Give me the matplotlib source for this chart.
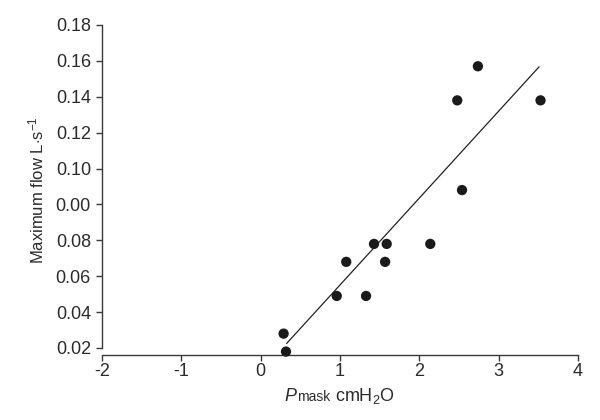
import numpy as np
import matplotlib
matplotlib.use('Agg')
from matplotlib import pyplot as pp
from matplotlib import rc
from matplotlib.offsetbox import TextArea, HPacker, AnchoredOffsetbox

rc('font', **{'family': 'sans-serif', 'sans-serif': ['Liberation Sans']})
rc('mathtext', **{'fontset': 'custom', 'rm': 'Liberation Sans', 'it': 'Liberation Sans:italic'})

# scatter data (y in tick-position units, see labels below)
pmask = [0.29, 0.32, 0.96, 1.08, 1.33, 1.43, 1.57, 1.59, 2.14, 2.48, 2.54, 2.74, 3.53]
max_flow = [0.028, 0.018, 0.049, 0.068, 0.049, 0.078, 0.068, 0.078, 0.078, 0.158, 0.108, 0.177, 0.158]

# fitted line end points
fit_x = [0.33, 3.51]
fit_y = [0.0226, 0.1766]

xticks = [-2, -1, 0, 1, 2, 3, 4]
ytick_pos = [0.02, 0.04, 0.06, 0.08, 0.10, 0.12, 0.14, 0.16, 0.18, 0.20]
ytick_labels = ['0.02', '0.04', '0.06', '0.08', '0.00', '0.10', '0.12', '0.14', '0.16', '0.18']

textColor = '#2b2b2b'
lineColor = '#3a3a3a'

fig = pp.figure(figsize=(6, 4.2), dpi=100)
ax = fig.add_axes([0.17, 0.1548, 0.793, 1 - 25/420 - 0.1548])

ax.plot(fit_x, fit_y, color='#222222', linewidth=0.9, zorder=2)
ax.scatter(pmask, max_flow, s=55, color='#1a1a1a', edgecolor='none', zorder=3, clip_on=False)

ax.set_xlim(-2, 4)
ax.set_ylim(0.02 - 7/35.9*0.02, 0.20)
ax.set_xticks(xticks)
ax.set_xticklabels([str(t) for t in xticks])
ax.set_yticks(ytick_pos)
ax.set_yticklabels(ytick_labels)

ax.spines['right'].set_visible(False)
ax.spines['top'].set_visible(False)
ax.spines['left'].set_bounds(0.02, 0.20)
ax.spines['bottom'].set_bounds(-2, 4)
for s in ['left', 'bottom']:
  ax.spines[s].set_color(lineColor)
  ax.spines[s].set_linewidth(1.0)

ax.tick_params(axis='both', direction='out', length=4, width=1.0, color=lineColor,
               labelsize=13, labelcolor=textColor)
ax.tick_params(axis='y', pad=4)
ax.tick_params(axis='x', pad=1.5)

ax.set_ylabel('Maximum flow L$\\cdot$s$^{-1}$', fontsize=12, color=textColor, labelpad=7)

# x label: italic P, small "mask" on the baseline, then units
parts = [TextArea('P', textprops=dict(fontsize=13, style='italic', color=textColor)),
         TextArea('mask', textprops=dict(fontsize=10, color=textColor)),
         TextArea(' cmH$_2$O', textprops=dict(fontsize=13, color=textColor))]
box = HPacker(children=parts, align='baseline', pad=0, sep=0)
anchored = AnchoredOffsetbox(loc='upper center', child=box, pad=0, frameon=False,
                             bbox_to_anchor=(0.5, -0.093), bbox_transform=ax.transAxes, borderpad=0)
ax.add_artist(anchored)

pp.savefig('out.png', dpi=100)
